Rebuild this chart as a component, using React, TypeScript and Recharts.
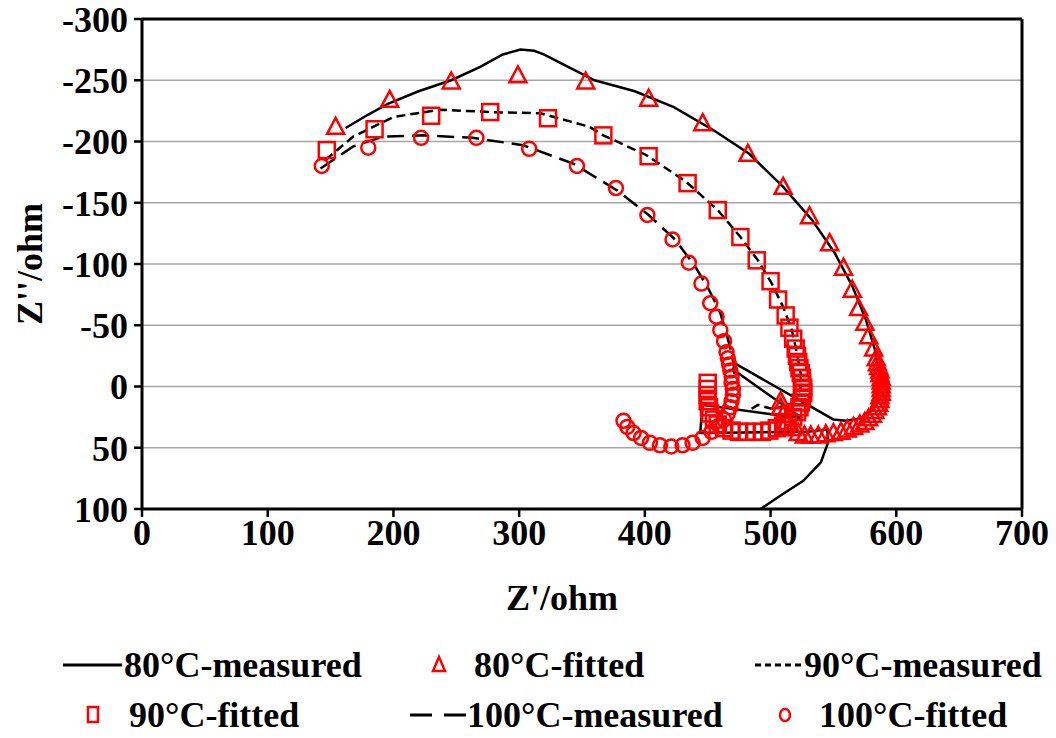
import React from "react";
import { ScatterChart, Scatter, XAxis, YAxis, CartesianGrid, ReferenceLine } from "recharts";

type Pt = [number, number];

const xTicks = [0, 100, 200, 300, 400, 500, 600, 700];
const yTicks = [-300, -250, -200, -150, -100, -50, 0, 50, 100];

// measured curves (Z', Z'')
const measured80: Pt[] = [
  [162, -211], [180, -222], [196, -231], [220, -241], [246, -250], [269, -261], [287, -271],
  [301, -275], [312, -274], [320, -271], [337, -262], [360, -250], [392, -241], [423, -228],
  [455, -209], [483, -190], [510, -163], [533, -136], [551, -109], [565, -82], [576, -54],
  [583, -30], [586, -12], [587, 0], [585, 12], [580, 20], [572, 26], [560, 28], [550, 27],
  [545, 24], [473, -18], [470, -14], [525, 26], [446, 15], [444, 38], [530, 37], [545, 35],
  [546, 45], [540, 62], [526, 77], [508, 89], [492, 100],
];
const measured90: Pt[] = [
  [146, -185], [168, -204], [200, -220], [237, -226], [277, -224], [317, -223], [356, -212],
  [367, -205], [401, -189], [433, -167], [458, -144], [476, -122], [490, -103], [501, -84],
  [510, -65], [517, -46], [521, -27], [524, -11], [524, 0], [521, 10], [512, 16], [500, 18],
  [490, 15], [482, 20],
];
const measured100: Pt[] = [
  [142, -178], [168, -196], [192, -204], [224, -205], [263, -203], [303, -197], [343, -182],
  [378, -160], [403, -140], [424, -120], [440, -98], [451, -79], [460, -60], [465, -43],
  [469, -27], [471, -15], [471, -5],
];

// fitted points
const fitted80: Pt[] = [
  [154, -212], [197, -234], [246, -249], [299, -254], [353, -249], [403, -235], [446, -215],
  [482, -190], [510, -163], [531, -139], [547, -117], [558, -97], [565, -79], [570, -64],
  [575, -52], [578, -41], [582, -31], [584, -23], [585, -19], [586, -16], [587, -13], [587, -10],
  [588, -7], [588, -4], [588, -1], [588, 2], [588, 5], [587, 8], [587, 11], [586, 14], [585, 17],
  [583, 20], [581, 23], [578, 26], [575, 29], [571, 31], [566, 33], [561, 35], [556, 37],
  [550, 38], [544, 39], [538, 40], [532, 40], [527, 40], [522, 38], [517, 34], [513, 29],
  [510, 23], [508, 17], [508, 12],
];
const fitted90: Pt[] = [
  [147, -193], [185, -210], [230, -221], [277, -224], [323, -219], [367, -205], [403, -188],
  [434, -166], [458, -144], [476, -122], [489, -103], [500, -86], [506, -71], [512, -58],
  [515, -48], [518, -39], [520, -31], [521, -25], [522, -20], [523, -15], [524, -11], [525, -7],
  [525, -3], [526, 1], [526, 5], [525, 9], [524, 13], [523, 17], [521, 21], [518, 25], [514, 29],
  [510, 32], [505, 34], [499, 36], [493, 37], [487, 37], [481, 37], [475, 37], [469, 36],
  [463, 34], [458, 31], [455, 27], [452, 22], [451, 17], [450, 12], [450, 7], [450, 2], [450, -3],
];
const fitted100: Pt[] = [
  [143, -180], [180, -195], [222, -203], [266, -203], [308, -194], [346, -180], [377, -162],
  [402, -140], [422, -120], [435, -101], [445, -84], [452, -68], [457, -57], [460, -46],
  [463, -37], [465, -28], [466, -23], [467, -18], [468, -13], [469, -8], [469, -3], [470, 2],
  [470, 7], [469, 12], [468, 17], [466, 22], [463, 27], [459, 32], [453, 37], [446, 42],
  [438, 46], [430, 48], [421, 49], [412, 48], [404, 46], [397, 42], [391, 38], [386, 33],
  [383, 28],
];

const toPts = (arr: Pt[]) => arr.map(([x, y]) => ({ x, y }));

const RED = "#ff0000";
const FONT = "'Liberation Serif', 'Times New Roman', serif";

const NoDot = () => <g />;

const Tri = (p: any) => {
  const { cx, cy } = p;
  return (
    <path
      d={`M${cx},${cy - 9} L${cx + 8.5},${cy + 7} L${cx - 8.5},${cy + 7} Z`}
      fill="none"
      stroke={RED}
      strokeWidth={2.5}
    />
  );
};
const Sq = (p: any) => (
  <rect x={p.cx - 8} y={p.cy - 8} width={16} height={16} fill="none" stroke={RED} strokeWidth={2.5} />
);
const Circ = (p: any) => <circle cx={p.cx} cy={p.cy} r={7} fill="none" stroke={RED} strokeWidth={2.5} />;

const tickStyle = { fill: "#000", fontSize: 36, fontWeight: "bold", fontFamily: FONT };
const titleStyle = { fill: "#000", fontSize: 36, fontWeight: "bold", fontFamily: FONT };

// legend drawn below the plot, two rows of three entries
function Legend() {
  const t = { ...titleStyle, dominantBaseline: "central" } as any;
  return (
    <svg width={1040} height={738} style={{ position: "absolute", left: 0, top: 0, overflow: "visible" }}>
      <line x1={55} x2={114} y1={665} y2={665} stroke="#000" strokeWidth={3} />
      <text x={116} y={665} {...t}>80°C-measured</text>
      <path d="M431,657 L437,671 L425,671 Z" fill="none" stroke={RED} strokeWidth={2.5} />
      <text x={466} y={665} {...t}>80°C-fitted</text>
      <line x1={747} x2={794} y1={665} y2={665} stroke="#000" strokeWidth={3} strokeDasharray="6 4" />
      <text x={796} y={665} {...t}>90°C-measured</text>

      <rect x={80} y={707} width={10} height={15} fill="none" stroke={RED} strokeWidth={2.5} />
      <text x={121} y={715} {...t}>90°C-fitted</text>
      <line x1={402} x2={459} y1={715} y2={715} stroke="#000" strokeWidth={3} strokeDasharray="22 12" />
      <text x={459} y={715} {...t}>100°C-measured</text>
      <ellipse cx={777} cy={715} rx={5} ry={6} fill="none" stroke={RED} strokeWidth={2.5} />
      <text x={811} y={715} {...t}>100°C-fitted</text>
    </svg>
  );
}

export default function App() {
  return (
    <div style={{ position: "relative", width: 1040, height: 730, marginTop: -8 }}>
      <ScatterChart width={1040} height={730} margin={{ top: 19, right: 26, left: 0, bottom: 121 }}>
        <CartesianGrid vertical={false} stroke="#a6a6a6" strokeWidth={1.5} />
        <XAxis
          type="number"
          dataKey="x"
          domain={[0, 700]}
          ticks={xTicks}
          interval={0}
          allowDataOverflow
          height={100}
          tick={tickStyle}
          tickSize={8}
          tickMargin={2}
          axisLine={{ stroke: "#000", strokeWidth: 3 }}
          tickLine={{ stroke: "#000", strokeWidth: 2.5 }}
          label={(p: any) => (
            <text x={p.viewBox.x + p.viewBox.width / 2 - 20} y={610} textAnchor="middle" {...titleStyle}>
              Z'/ohm
            </text>
          )}
        />
        <YAxis
          type="number"
          dataKey="y"
          domain={[-300, 100]}
          ticks={yTicks}
          interval={0}
          reversed
          allowDataOverflow
          width={134}
          tick={tickStyle}
          tickSize={8}
          tickMargin={6}
          axisLine={{ stroke: "#000", strokeWidth: 3 }}
          tickLine={{ stroke: "#000", strokeWidth: 2.5 }}
          label={(p: any) => (
            <text
              x={22}
              y={p.viewBox.y + p.viewBox.height / 2}
              textAnchor="middle"
              dominantBaseline="central"
              transform={`rotate(-90, 22, ${p.viewBox.y + p.viewBox.height / 2})`}
              {...titleStyle}
            >
              Z''/ohm
            </text>
          )}
        />
        <ReferenceLine y={-300} stroke="#000" strokeWidth={3} />
        <ReferenceLine x={700} stroke="#000" strokeWidth={3} />
        <Scatter
          data={toPts(measured80)}
          line={{ stroke: "#000", strokeWidth: 2.5 }}
          lineType="joint"
          shape={NoDot}
          isAnimationActive={false}
        />
        <Scatter
          data={toPts(measured90)}
          line={{ stroke: "#000", strokeWidth: 2.5, strokeDasharray: "9 5" }}
          lineType="joint"
          shape={NoDot}
          isAnimationActive={false}
        />
        <Scatter
          data={toPts(measured100)}
          line={{ stroke: "#000", strokeWidth: 2.5, strokeDasharray: "17 8" }}
          lineType="joint"
          shape={NoDot}
          isAnimationActive={false}
        />
        <Scatter data={toPts(fitted80)} shape={Tri} isAnimationActive={false} />
        <Scatter data={toPts(fitted90)} shape={Sq} isAnimationActive={false} />
        <Scatter data={toPts(fitted100)} shape={Circ} isAnimationActive={false} />
      </ScatterChart>
      <Legend />
    </div>
  );
}
